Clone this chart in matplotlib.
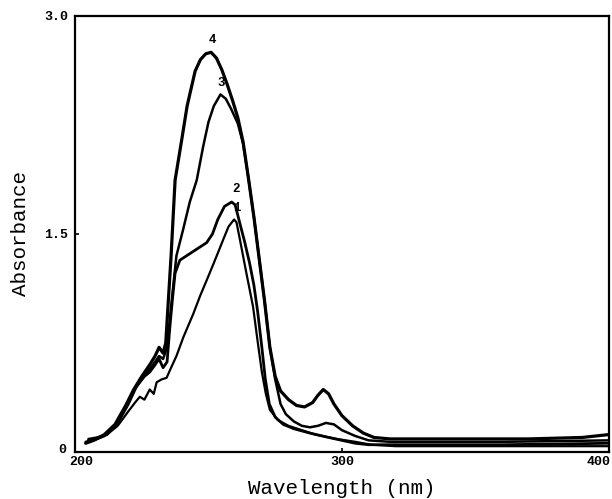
import matplotlib

matplotlib.use("Agg")
import matplotlib.pyplot as plt
import matplotlib.transforms as mtransforms

# Spectra (wavelength in nm, absorbance)
wl_1 = [205, 208, 212, 216, 220, 222.5, 224.3, 226, 228, 229.5, 230.6, 232.5, 234.3, 236, 238,
        240.6, 244.3, 247, 249.3, 252, 255.5, 257.5, 259.6, 260.5, 261.8, 264, 266.7, 268.5,
        270, 271.5, 273, 276, 280, 285, 290, 298, 305, 311, 320, 360, 400]
abs_1 = [0.09, 0.10, 0.12, 0.18, 0.28, 0.34, 0.38, 0.36, 0.43, 0.40, 0.48, 0.50, 0.51, 0.58, 0.66,
         0.79, 0.95, 1.08, 1.18, 1.30, 1.46, 1.55, 1.60, 1.58, 1.46, 1.25, 1.00, 0.75,
         0.55, 0.40, 0.29, 0.22, 0.18, 0.15, 0.12, 0.09, 0.07, 0.05, 0.04, 0.04, 0.04]

wl_2 = [205, 208, 212, 216, 220, 223, 226, 228, 230, 231.5, 233, 234.5, 235.5, 236.5, 237.5,
        239.3, 244.3, 249.3, 251.5, 253.5, 256, 258.7, 260, 261.8, 263.5, 265.4, 267, 268.4,
        270, 271.3, 272.8, 275, 278, 282, 288, 295, 300, 305, 310, 320, 360, 400]
abs_2 = [0.08, 0.09, 0.12, 0.20, 0.33, 0.45, 0.52, 0.55, 0.60, 0.64, 0.58, 0.62, 0.85, 1.05, 1.23,
         1.32, 1.38, 1.44, 1.50, 1.60, 1.69, 1.72, 1.70, 1.57, 1.45, 1.30, 1.15, 0.97,
         0.72, 0.50, 0.33, 0.24, 0.19, 0.16, 0.13, 0.10, 0.08, 0.06, 0.05, 0.05, 0.05, 0.06]

wl_3 = [204, 207, 211, 215, 219, 222, 225, 228, 230, 231.5, 233, 234.5, 236, 238, 240.5, 243,
        245.6, 248, 250, 252, 254.5, 256.5, 258.5, 261, 263, 265, 267, 269, 271, 273, 275, 277,
        279, 282, 285, 288, 291, 294, 297, 300, 305, 310, 318, 330, 360, 400]
abs_3 = [0.07, 0.08, 0.11, 0.18, 0.30, 0.42, 0.50, 0.57, 0.62, 0.66, 0.64, 0.72, 1.00, 1.35, 1.53, 1.72,
         1.87, 2.10, 2.27, 2.38, 2.46, 2.43, 2.36, 2.26, 2.12, 1.88, 1.62, 1.33, 1.04, 0.72, 0.50, 0.33,
         0.26, 0.21, 0.18, 0.17, 0.18, 0.20, 0.19, 0.15, 0.11, 0.08, 0.07, 0.07, 0.07, 0.08]

wl_4 = [204, 207, 211, 215, 219, 222, 225, 228, 230, 231.5, 233, 234, 236, 237.5, 240, 242, 245,
        247, 249, 251, 253, 255, 257, 259, 261, 263, 265, 267, 269, 271, 273, 275, 277, 280, 283,
        286, 289, 291, 293, 295, 297, 300, 304, 308, 312, 318, 330, 350, 370, 390, 400]
abs_4 = [0.06, 0.08, 0.12, 0.19, 0.32, 0.43, 0.52, 0.60, 0.66, 0.72, 0.68, 0.75, 1.35, 1.87, 2.15, 2.38, 2.62,
         2.70, 2.74, 2.75, 2.71, 2.63, 2.53, 2.42, 2.30, 2.13, 1.88, 1.62, 1.33, 1.04, 0.72, 0.52, 0.42, 0.36, 0.32,
         0.31, 0.34, 0.39, 0.43, 0.40, 0.33, 0.25, 0.18, 0.13, 0.10, 0.09, 0.09, 0.09, 0.09, 0.10, 0.12]

curves = [(wl_1, abs_1, 1.6, "1"), (wl_2, abs_2, 2.0, "2"), (wl_3, abs_3, 1.8, "3"), (wl_4, abs_4, 2.3, "4")]
label_pos = {"1": (260.7, 1.64), "2": (260.3, 1.77), "3": (254.7, 2.50), "4": (251.3, 2.79)}

mono = "Liberation Mono"

fig = plt.figure(figsize=(6.12, 4.99), dpi=100)
ax = fig.add_axes([0.1225, 0.0942, 0.8725, 0.8738])

for wl, a, lw, name in curves:
    ax.plot(wl, a, color="black", lw=lw, solid_joinstyle="round", solid_capstyle="round")
    lx, ly = label_pos[name]
    ax.text(lx, ly, name, ha="center", va="bottom", fontsize=9, fontweight="bold",
            family=mono)

ax.set_xlim(200, 400)
ax.set_ylim(0, 3.0)
ax.set_xticks([200, 300, 400])
ax.set_xticklabels(["200", "300", "400"], family=mono, fontsize=9.5, fontweight="bold")
ax.set_yticks([0, 1.5, 3.0])
ax.set_yticklabels(["0", "1.5", "3.0"], family=mono, fontsize=9.5, fontweight="bold")
ax.tick_params(direction="in", length=3, width=1.2, pad=3)
ax.tick_params(axis="y", pad=5)
for sp in ax.spines.values():
    sp.set_linewidth(1.6)

# corner labels: "200" sits right of the corner, "0" a bit up, "400" kept inside
xlabs = ax.get_xticklabels()
xlabs[0].set_transform(xlabs[0].get_transform() + mtransforms.ScaledTranslation(6 / 100, 0, fig.dpi_scale_trans))
xlabs[2].set_horizontalalignment("right")
xlabs[2].set_transform(xlabs[2].get_transform() + mtransforms.ScaledTranslation(2 / 100, 0, fig.dpi_scale_trans))
ylabs = ax.get_yticklabels()
ylabs[0].set_transform(ylabs[0].get_transform() + mtransforms.ScaledTranslation(-2 / 100, 3 / 100, fig.dpi_scale_trans))

ax.set_xlabel("Wavelength (nm)", family=mono, fontsize=15, labelpad=8)
ax.set_ylabel("Absorbance", family=mono, fontsize=15, labelpad=10)

fig.savefig("out.png", dpi=100)
